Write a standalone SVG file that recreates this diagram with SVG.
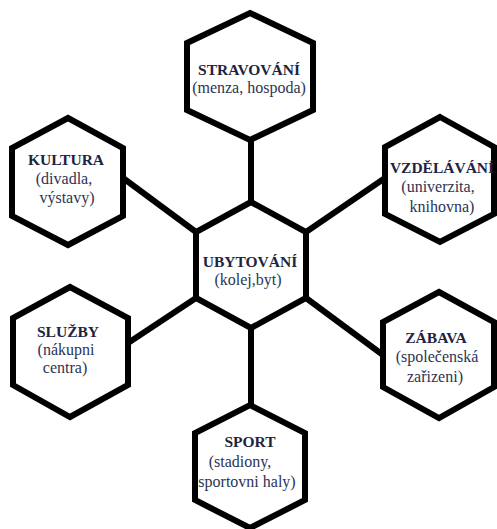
<svg xmlns="http://www.w3.org/2000/svg" width="497" height="529" viewBox="0 0 497 529">
<style>
.hex{fill:#ffffff;stroke:#000000;stroke-width:6;stroke-linejoin:miter}
.con line{stroke:#000000;stroke-width:6}
.t{font-family:"Liberation Serif","Times New Roman",serif;font-size:15.5px;font-weight:bold;fill:#1e2440;text-anchor:middle}
.s{font-family:"Liberation Serif","Times New Roman",serif;font-size:16px;fill:#2c3454;text-anchor:middle}
</style>
<rect width="497" height="529" fill="#ffffff"/>
<g id="connectors" class="con">
<line x1="251" y1="140" x2="251" y2="202"/>
<line x1="123" y1="178" x2="196" y2="232"/>
<line x1="306" y1="232" x2="385" y2="178"/>
<line x1="128" y1="343" x2="196" y2="298"/>
<line x1="306" y1="298" x2="383" y2="355"/>
<line x1="251" y1="328" x2="251" y2="405"/>
</g>
<g id="stravovani">
<polygon class="hex" points="250,13 313,43 313,110 250,140 187,110 187,43"/>
<text class="t" x="249" y="75">STRAVOVÁNÍ</text>
<text class="s" x="249" y="93">(menza, hospoda)</text>
</g>
<g id="kultura">
<polygon class="hex" points="68,118 123,148 123,216 68,245 12,216 12,148"/>
<text class="t" x="66" y="165">KULTURA</text>
<text class="s" x="64" y="184">(divadla,</text>
<text class="s" x="67" y="203">výstavy)</text>
</g>
<g id="vzdelavani">
<polygon class="hex" points="440,117 494,147 494,214 440,242 385,214 385,147"/>
<text class="t" x="442" y="173">VZDĚLÁVÁNÍ</text>
<text class="s" x="438" y="192">(univerzita,</text>
<text class="s" x="442" y="212">knihovna)</text>
</g>
<g id="ubytovani">
<polygon class="hex" points="251,202 306,232 306,298 251,328 196,298 196,232"/>
<text class="t" x="250" y="267">UBYTOVÁNÍ</text>
<text class="s" x="248" y="285">(kolej,byt)</text>
</g>
<g id="sluzby">
<polygon class="hex" points="70,287 128,318 128,385 70,417 13,385 13,318"/>
<text class="t" x="68" y="337">SLUŽBY</text>
<text class="s" x="66" y="355">(nákupni</text>
<text class="s" x="65" y="373">centra)</text>
</g>
<g id="zabava">
<polygon class="hex" points="439,292 494,322 494,387 439,418 383,387 383,322"/>
<text class="t" x="436" y="343">ZÁBAVA</text>
<text class="s" x="437" y="362">(společenská</text>
<text class="s" x="435" y="382">zařizeni)</text>
</g>
<g id="sport">
<polygon class="hex" points="250,405 305,433 305,500 250,528 195,500 195,433"/>
<text class="t" x="250" y="447">SPORT</text>
<text class="s" x="240" y="467">(stadiony,</text>
<text class="s" x="247" y="487">sportovni haly)</text>
</g>
</svg>
